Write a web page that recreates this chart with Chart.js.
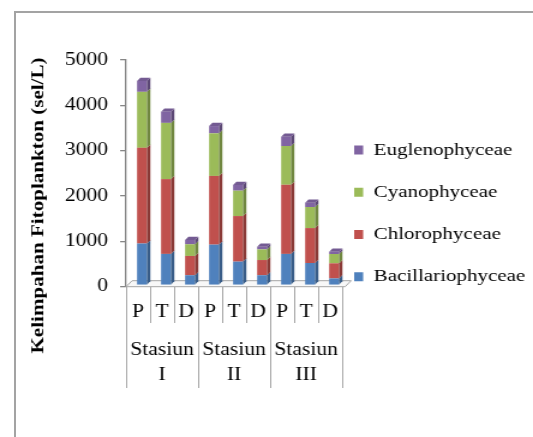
<!DOCTYPE html>
<html>
<head>
<meta charset="utf-8">
<script src="https://cdn.jsdelivr.net/npm/chart.js@4"></script>
<style>
  html, body { margin: 0; padding: 0; background: #fff; overflow: hidden; }
  #frame { position: absolute; left: 14px; top: 11px; width: 600px; height: 500px;
           border-left: 2px solid #a3a3a3; border-top: 2px solid #a3a3a3; }
  #wrap { position: absolute; left: 0; top: 0; width: 444px; height: 437px;
          transform: scaleX(1.2005); transform-origin: 0 0; }
</style>
</head>
<body>
<div id="frame"></div>
<div id="wrap"><canvas id="c"></canvas></div>
<script>
// Sampling points (P, T, D) within each station
const categories = ['P', 'T', 'D', 'P', 'T', 'D', 'P', 'T', 'D'];
const stations = [['Stasiun', 'I'], ['Stasiun', 'II'], ['Stasiun', 'III']];

// Abundance per class (sel/L)
const bacillariophyceae = [920, 690, 220, 895, 520, 220, 690, 490, 150];
const chlorophyceae     = [2110, 1650, 425, 1515, 1005, 335, 1525, 770, 333];
const cyanophyceae      = [1235, 1240, 258, 940, 560, 235, 855, 465, 205];
const euglenophyceae    = [240, 245, 95, 160, 125, 58, 205, 95, 50];

const yTicks = [0, 1000, 2000, 3000, 4000, 5000];
const yTitleText = 'Kelimpahan Fitoplankton (sel/L)';

Chart.defaults.font.family = '"Liberation Serif", "Times New Roman", serif';
Chart.defaults.color = '#000';

// depth of each column and its seat on the floor
const DEPTH = { x: 2.75, y: -3.3 };
const SHIFT = { x: 3.33, y: -1.5 };

function shade(hex, f) {
  const n = parseInt(hex.slice(1), 16);
  const r = Math.round(((n >> 16) & 255) * f);
  const g = Math.round(((n >> 8) & 255) * f);
  const b = Math.round((n & 255) * f);
  return 'rgb(' + Math.min(r, 255) + ',' + Math.min(g, 255) + ',' + Math.min(b, 255) + ')';
}

// floor under the columns, plus side and top faces of every column
const columns3d = {
  id: 'columns3d',
  beforeDatasetsDraw(chart) {
    const { ctx, chartArea: a } = chart;
    ctx.save();
    ctx.beginPath();
    ctx.moveTo(a.left, a.bottom);
    ctx.lineTo(a.right + 2.5, a.bottom);
    ctx.lineTo(a.right + 7.5, a.bottom - 6);
    ctx.lineTo(a.left + 5, a.bottom - 6);
    ctx.closePath();
    ctx.fillStyle = '#f8f8f8';
    ctx.fill();
    ctx.strokeStyle = '#a6a6a6';
    ctx.lineWidth = 1;
    ctx.stroke();
    ctx.restore();
    ctx.save();
    ctx.translate(SHIFT.x, SHIFT.y);
  },
  afterDatasetsDraw(chart) {
    const ctx = chart.ctx;
    const last = chart.data.datasets.length - 1;
    chart.data.datasets.forEach((ds, di) => {
      const meta = chart.getDatasetMeta(di);
      meta.data.forEach(bar => {
        const { x, y, base, width } = bar.getProps(['x', 'y', 'base', 'width'], true);
        const l = x - width / 2, r = x + width / 2;
        ctx.fillStyle = shade(ds.backgroundColor, 0.72);
        ctx.beginPath();
        ctx.moveTo(r, y);
        ctx.lineTo(r + DEPTH.x, y + DEPTH.y);
        ctx.lineTo(r + DEPTH.x, base + DEPTH.y);
        ctx.lineTo(r, base);
        ctx.closePath();
        ctx.fill();
        if (di === last) {
          ctx.fillStyle = shade(ds.backgroundColor, 0.9);
          ctx.beginPath();
          ctx.moveTo(l, y);
          ctx.lineTo(l + DEPTH.x, y + DEPTH.y);
          ctx.lineTo(r + DEPTH.x, y + DEPTH.y);
          ctx.lineTo(r, y);
          ctx.closePath();
          ctx.fill();
        }
      });
    });
    ctx.restore();
  }
};

// legend column sits to the right of the floor
const legendPlace = {
  id: 'legendPlace',
  afterLayout(chart) {
    const lg = chart.legend;
    const pad = lg.options.labels.padding;
    lg.left = 295 - pad;
    lg.right = chart.width;
    lg.top = 116.4;
    lg.bottom = chart.height;
  }
};

// rotated value-axis title
const yTitle = {
  id: 'yTitle',
  afterDraw(chart) {
    const ctx = chart.ctx;
    ctx.save();
    ctx.translate(32, 205.5);
    ctx.rotate(-Math.PI / 2);
    ctx.scale(1.17, 0.79);
    ctx.font = 'bold 18px "Liberation Serif"';
    ctx.fillStyle = '#000';
    ctx.textAlign = 'center';
    ctx.textBaseline = 'middle';
    ctx.fillText(yTitleText, 0, 0);
    ctx.restore();
  }
};

const series = [
  { label: 'Bacillariophyceae', data: bacillariophyceae, color: '#4F81BD' },
  { label: 'Chlorophyceae', data: chlorophyceae, color: '#C0504D' },
  { label: 'Cyanophyceae', data: cyanophyceae, color: '#9BBB59' },
  { label: 'Euglenophyceae', data: euglenophyceae, color: '#8064A2' }
];

new Chart(document.getElementById('c'), {
  type: 'bar',
  data: {
    labels: categories,
    datasets: series.map(s => ({
      label: s.label,
      data: s.data,
      backgroundColor: s.color,
      borderWidth: 0,
      categoryPercentage: 1,
      barPercentage: 0.415,
      clip: false
    }))
  },
  options: {
    responsive: true,
    maintainAspectRatio: false,
    animation: false,
    layout: { padding: { top: 60, left: 0, right: 0, bottom: 49 } },
    plugins: {
      tooltip: { enabled: false },
      legend: {
        position: 'right',
        align: 'start',
        maxWidth: 159,
        reverse: true,
        labels: {
          boxWidth: 7.5,
          boxHeight: 9,
          padding: 24.8,
          color: '#000',
          font: { size: 17.5 }
        }
      }
    },
    scales: {
      x: {
        type: 'category',
        stacked: true,
        weight: 0,
        offset: true,
        grid: { offset: true, drawOnChartArea: false, drawTicks: true, tickLength: 36.3, color: '#a6a6a6', lineWidth: 1 },
        border: { display: false },
        ticks: { color: '#000', font: { size: 18 }, padding: -22, autoSkip: false, maxRotation: 0 },
        afterFit(s) { s.height = 36.3; }
      },
      x2: {
        type: 'category',
        labels: stations,
        position: 'bottom',
        weight: 1,
        offset: true,
        grid: { offset: true, drawOnChartArea: false, drawTicks: true, tickLength: 65, color: '#a6a6a6', lineWidth: 1 },
        border: { display: false },
        ticks: { color: '#000', font: { size: 18, lineHeight: 1.39 }, padding: -50.5, autoSkip: false, maxRotation: 0 },
        afterFit(s) { s.height = 65; }
      },
      y: {
        stacked: true,
        min: 0,
        max: 5000,
        afterBuildTicks(s) { s.ticks = yTicks.map(v => ({ value: v })); },
        grid: { drawOnChartArea: false, tickLength: 5, color: '#868686', lineWidth: 1.3 },
        border: { color: '#868686', width: 1.3 },
        ticks: { color: '#000', font: { size: 18 }, padding: 10, callback: v => String(v) },
        afterFit(s) { s.width = 105; }
      }
    }
  },
  plugins: [columns3d, legendPlace, yTitle]
});
</script>
</body>
</html>
